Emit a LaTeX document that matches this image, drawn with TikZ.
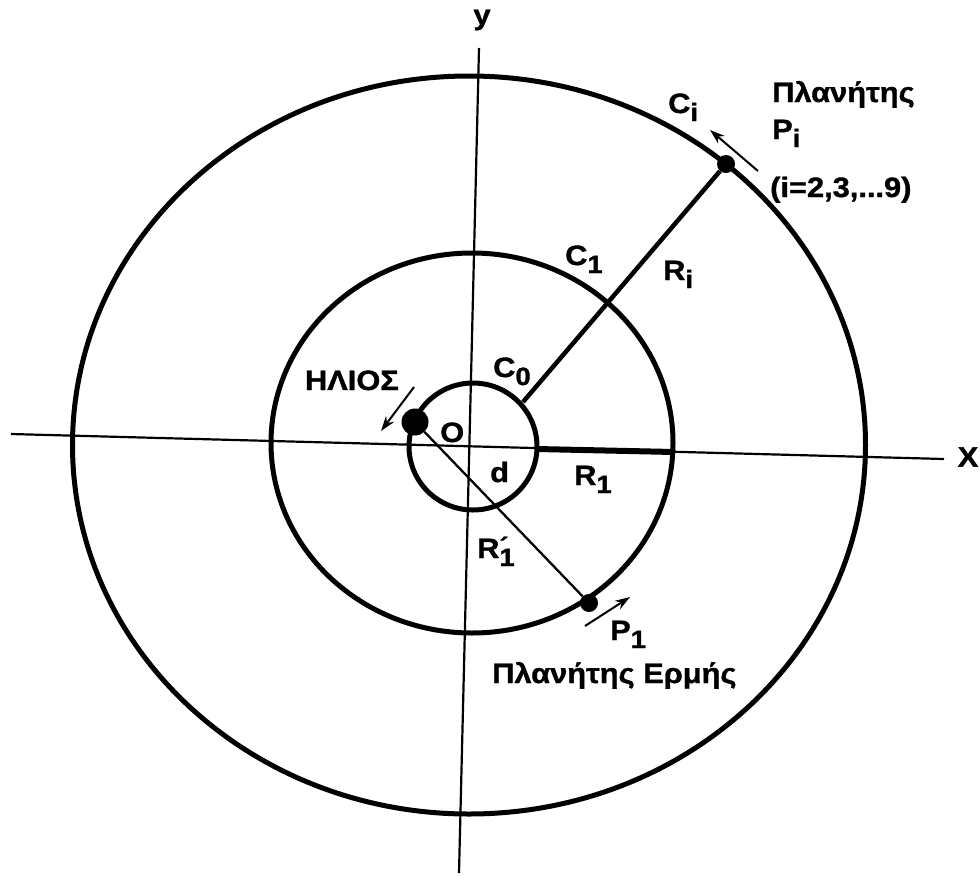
\documentclass[tikz,border=0pt]{standalone}
\usepackage{fontspec}
\setmainfont{Liberation Sans}[FakeStretch=1.1, BoldFeatures={FakeBold=1.2}]
\usetikzlibrary{arrows.meta}
\newcommand{\lowsub}[1]{\raisebox{-8pt}{\fontsize{25}{25}\selectfont #1}}
\begin{document}
\begin{tikzpicture}[x=1pt,y=-1pt,
  orbit/.style={line width=5pt},
  axisline/.style={line width=2.2pt},
  lbl/.style={font=\fontsize{28}{32}\selectfont\bfseries, inner sep=0pt},
  planet/.style={circle, fill=black, inner sep=0pt, minimum size=#1},
  motion/.style={line width=2pt, -{Stealth[length=15pt,width=10pt]}}]
\useasboundingbox (0,0) rectangle (980,876);

% axes
\coordinate (xL) at (11,434);
\coordinate (xR) at (944,459);
\coordinate (yT) at (479,48);
\coordinate (yB) at (459,873);
\draw[axisline] (xL) -- (xR);
\draw[axisline] (yT) -- (yB);

% orbits
\draw[orbit] (469,445) ellipse [x radius=396.5, y radius=369];
\draw[orbit] (472,443) ellipse [x radius=201, y radius=190];
\draw[orbit] (473,446.5) ellipse [x radius=64, y radius=63.5];

% bodies
\node[planet=27pt] (sun) at (415,422) {};
\node[planet=18pt] (pi) at (726,164) {};
\node[planet=18pt] (p1) at (589,603) {};

% radii
\coordinate (riA) at (523,402);
\coordinate (r1a) at (537,449);
\coordinate (r1b) at (674,452);
\draw[line width=2.3pt] (sun) -- (p1);
\draw[line width=4.5pt] (riA) -- (pi);
\draw[line width=6pt] (r1a) -- (r1b);

% motion arrows
\coordinate (piT) at (758,171);
\coordinate (piH) at (710,130);
\coordinate (sunT) at (414,387);
\coordinate (sunH) at (381,431);
\coordinate (p1T) at (585,626);
\coordinate (p1H) at (630,597);
\draw[motion] (piT) -- (piH);
\draw[motion] (sunT) -- (sunH);
\draw[motion] (p1T) -- (p1H);

% labels
\node[lbl] (ylab) at (482,20) {y};
\node[lbl] (xlab) at (968,457) {X};
\node[lbl, anchor=base west] (cilab) at (668,113) {C\lowsub{i}};
\node[lbl, anchor=base west] (plan1) at (772,102) {Πλανήτης};
\node[lbl, anchor=base west] (pilab) at (772,139) {P\lowsub{i}};
\node[lbl, anchor=base west] (range) at (770,197) {(i=2,3,...9)};
\node[lbl, anchor=base west] (c1lab) at (565,265) {C\lowsub{1}};
\node[lbl, anchor=base west] (rilab) at (663,280) {R\lowsub{i}};
\node[lbl, anchor=base west] (c0lab) at (493,377) {C\lowsub{0}};
\node[lbl, anchor=base west] (olab) at (440,442) {O};
\node[lbl, anchor=base west] (dlab) at (490,482) {d};
\node[lbl, anchor=base west] (r1lab) at (574,485) {R\lowsub{1}};
\node[lbl, anchor=base west] (r1plab) at (477,558) {R\raisebox{-8pt}{\fontsize{25}{25}\selectfont\makebox[0pt][l]{\raisebox{11pt}{´}}1}};
\node[lbl, anchor=base west] (p1lab) at (610,640) {P\lowsub{1}};
\node[lbl, anchor=base west] (ermis) at (492,683) {Πλανήτης Ερμής};
\node[lbl, anchor=base east] (helios) at (399,390) {ΗΛΙΟΣ};
\end{tikzpicture}
\end{document}
